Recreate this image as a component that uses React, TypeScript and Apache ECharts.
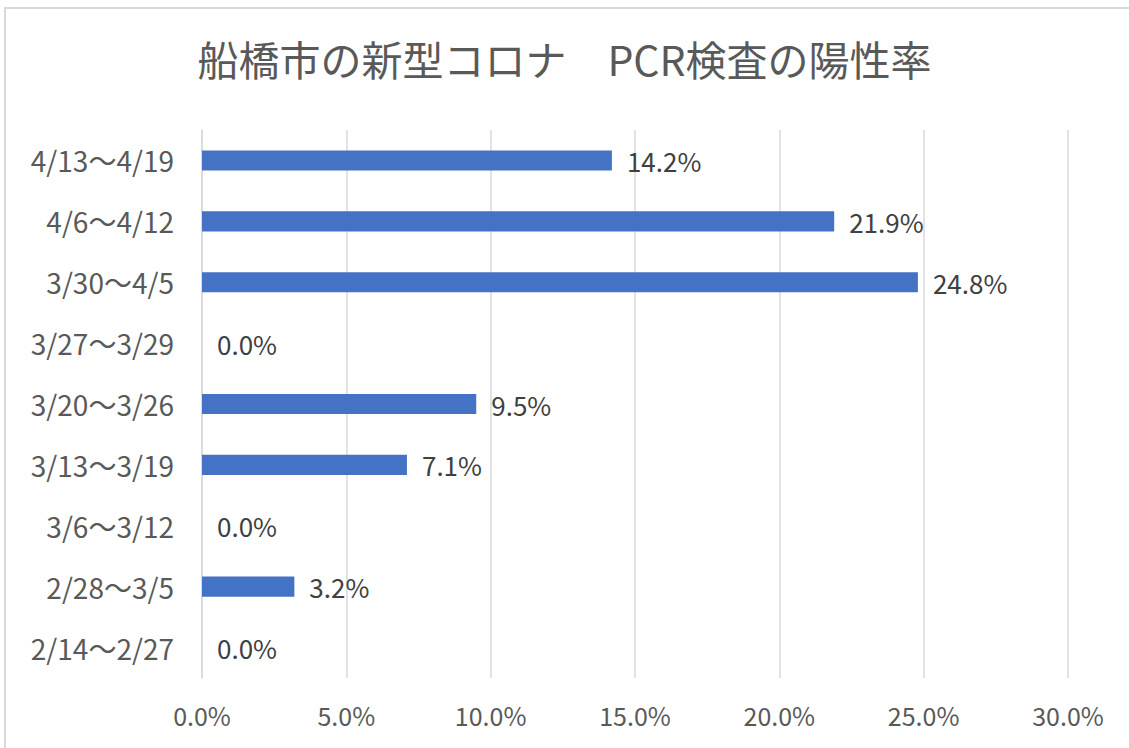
import React, { useEffect, useRef } from "react";
import * as echarts from "echarts";

const categories = [
  "2/14〜2/27",
  "2/28〜3/5",
  "3/6〜3/12",
  "3/13〜3/19",
  "3/20〜3/26",
  "3/27〜3/29",
  "3/30〜4/5",
  "4/6〜4/12",
  "4/13〜4/19",
];
const positiveRate = [0.0, 3.2, 0.0, 7.1, 9.5, 0.0, 24.8, 21.9, 14.2];
const titleText = "船橋市の新型コロナ　PCR検査の陽性率";

const FONT = "'Noto Sans CJK JP', 'Noto Sans', sans-serif";

export default function App() {
  const ref = useRef<HTMLDivElement>(null);
  useEffect(() => {
    if (!ref.current) return;
    const chart = echarts.init(ref.current, null, { renderer: "svg" });
    chart.setOption({
      animation: false,
      backgroundColor: "#ffffff",
      title: {
        text: titleText,
        left: "center",
        top: 32,
        textStyle: { fontFamily: FONT, fontSize: 41, fontWeight: "normal", color: "#595959" },
      },
      graphic: [
        {
          type: "rect",
          shape: { x: 5, y: 8, width: 1200, height: 800 },
          style: { fill: "none", stroke: "#d9d9d9", lineWidth: 2 },
          silent: true,
        },
      ],
      grid: { left: 202, right: 61, top: 130, bottom: 70, containLabel: false },
      xAxis: {
        type: "value",
        min: 0,
        max: 30,
        interval: 5,
        axisLine: { show: false },
        axisTick: { show: false },
        splitLine: { show: true, lineStyle: { color: "#d9d9d9", width: 1.5 } },
        axisLabel: {
          formatter: (v: number) => v.toFixed(1) + "%",
          fontFamily: FONT,
          fontSize: 25,
          color: "#595959",
          margin: 24,
        },
      },
      yAxis: {
        type: "category",
        data: categories,
        axisLine: { show: true, lineStyle: { color: "#d9d9d9", width: 1.5 } },
        axisTick: { show: false },
        axisLabel: { fontFamily: FONT, fontSize: 28, color: "#595959", margin: 28 },
      },
      series: [
        {
          type: "bar",
          data: positiveRate,
          barWidth: "33%",
          itemStyle: { color: "#4472C4" },
          label: {
            show: true,
            position: "right",
            distance: 15,
            formatter: (p: any) => Number(p.value).toFixed(1) + "%",
            fontFamily: FONT,
            fontSize: 26,
            color: "#404040",
          },
        },
      ],
    });
    return () => chart.dispose();
  }, []);
  return (
    <div
      ref={ref}
      style={{ position: "fixed", left: 0, top: 0, width: 1129, height: 748 }}
    />
  );
}
